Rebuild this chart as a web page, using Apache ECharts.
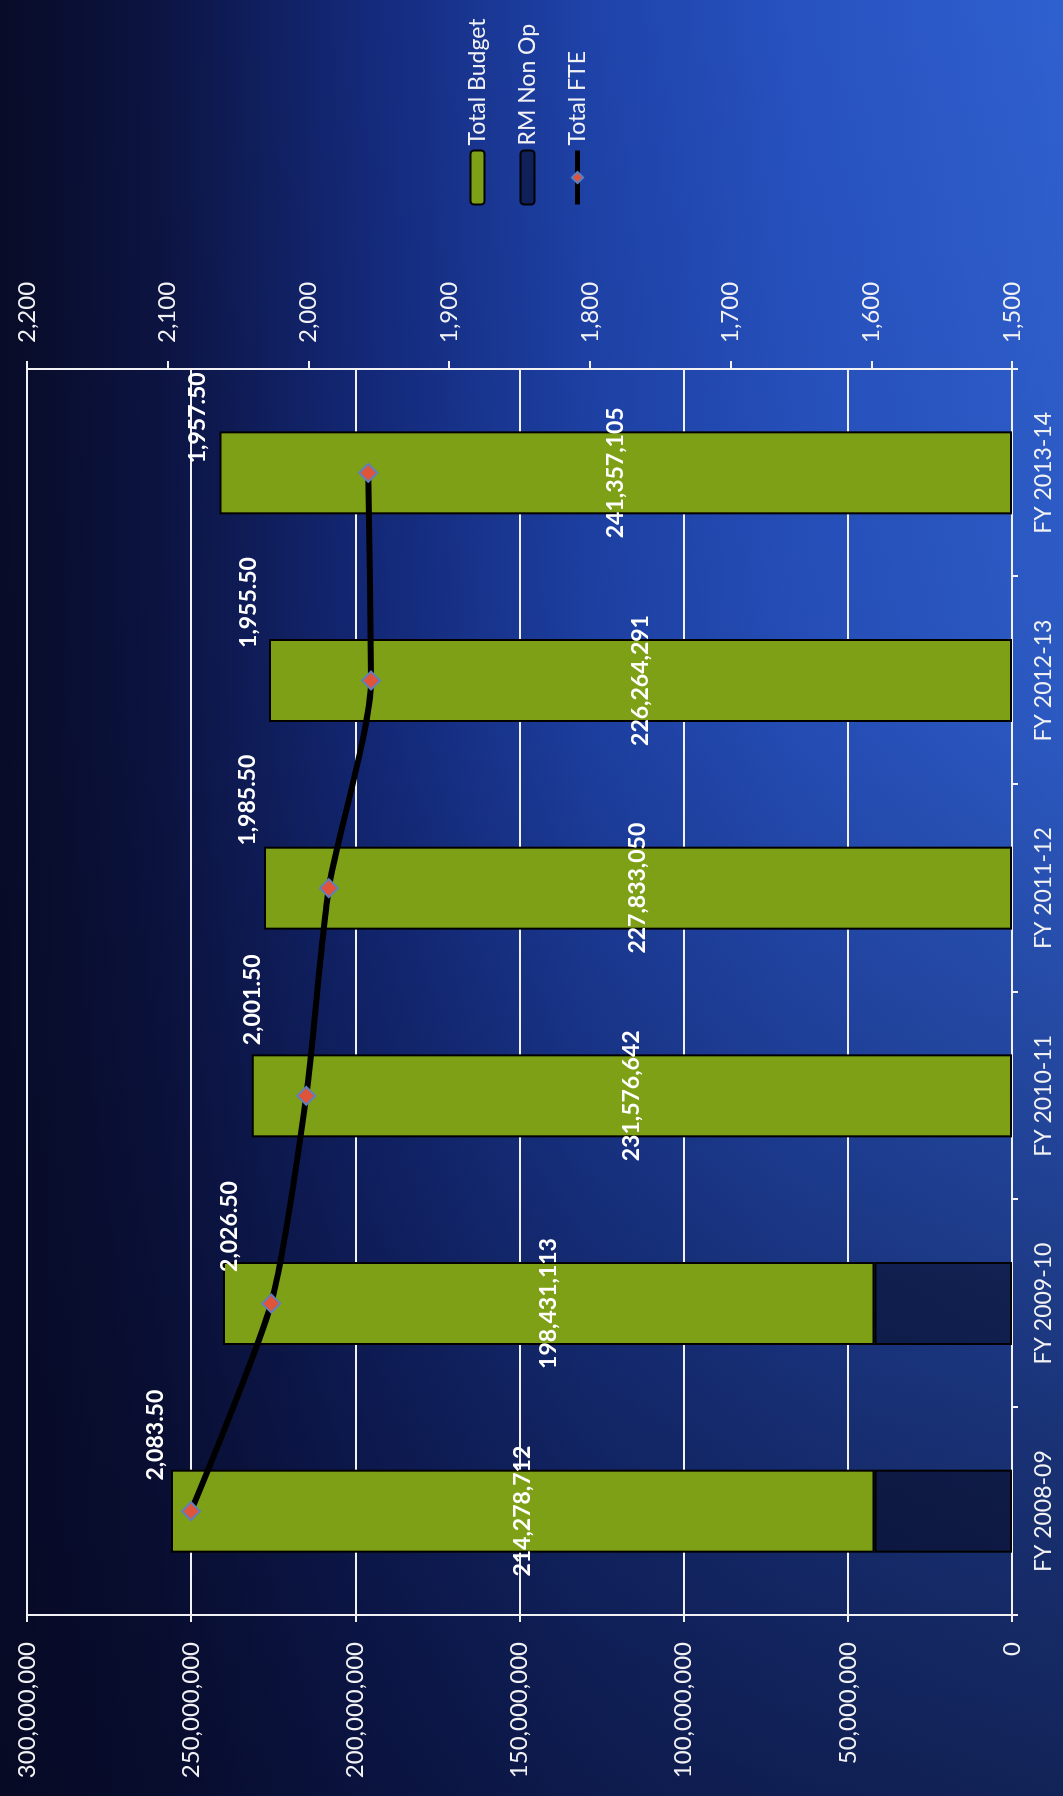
<!DOCTYPE html>
<html>
<head>
<meta charset="utf-8">
<title>Total Budget, RM Non Op and Total FTE</title>
<script src="https://cdn.jsdelivr.net/npm/echarts@6/dist/echarts.min.js"></script>
<style>
  html, body { margin: 0; padding: 0; width: 1063px; height: 1796px; overflow: hidden; }
  body {
    background:
      linear-gradient(to bottom, rgba(6,9,36,0) 0%, rgba(6,9,36,0.08) 40%, rgba(6,9,36,0.28) 60%, rgba(6,9,36,0.52) 80%, rgba(6,9,36,0.7) 100%),
      linear-gradient(to right, #080c28 0%, #0c1442 15%, #142a7c 35%, #1e42a8 55%, #2752c0 75%, #2f60cf 100%);
  }
  /* the chart is laid out as a normal column chart and turned a quarter turn */
  #chart {
    position: absolute; left: 0; top: 0;
    width: 1796px; height: 1063px;
    transform-origin: 0 0;
    transform: translate(0, 1796px) rotate(-90deg);
  }
</style>
</head>
<body>
<div id="chart"></div>
<script>
// Fiscal years
const categories = ['FY 2008-09', 'FY 2009-10', 'FY 2010-11', 'FY 2011-12', 'FY 2012-13', 'FY 2013-14'];
// Total Budget (stacked above RM Non Op)
const totalBudget = [214278712, 198431113, 231576642, 227833050, 226264291, 241357105];
// RM Non Op
const rmNonOp = [41900000, 41900000, 0, 0, 0, 0];
// Total FTE (right axis)
const totalFte = [2083.5, 2026.5, 2001.5, 1985.5, 1955.5, 1957.5];

// where each FTE label sits relative to its marker, in px
const fteLabelShift = [[76, -35], [77, -42], [96, -54], [88, -81], [78, -122], [55, -171]];

const FONT = 'Lato, "Open Sans", sans-serif';
const WHITE = '#f2f2f4';
const fmtInt = v => Number(v).toLocaleString('en-US');
const fmtFte = v => Number(v).toLocaleString('en-US', { minimumFractionDigits: 2, maximumFractionDigits: 2 });

const chart = echarts.init(document.getElementById('chart'), null, { renderer: 'canvas' });

chart.setOption({
  backgroundColor: 'transparent',
  animation: false,
  textStyle: { fontFamily: FONT },
  grid: { left: 181, right: 369, top: 27, bottom: 51, containLabel: false },
  legend: {
    orient: 'vertical',
    left: 1589,
    top: 466,
    padding: 0,
    itemWidth: 54,
    itemHeight: 14,
    itemGap: 27,
    lineStyle: { width: 5 },
    textStyle: { color: WHITE, fontSize: 23, fontFamily: FONT },
    data: ['Total Budget', 'RM Non Op', 'Total FTE']
  },
  xAxis: {
    type: 'category',
    data: categories,
    boundaryGap: true,
    axisLine: { show: true, lineStyle: { color: WHITE, width: 2 } },
    axisTick: { show: true, length: 6, lineStyle: { color: WHITE, width: 2 } },
    axisLabel: { color: WHITE, fontSize: 23, fontFamily: FONT, margin: 20 }
  },
  yAxis: [
    {
      type: 'value',
      position: 'left',
      min: 0,
      max: 300000000,
      interval: 50000000,
      axisLine: { show: true, lineStyle: { color: WHITE, width: 2 } },
      axisTick: { show: true, length: 7, lineStyle: { color: WHITE, width: 2 } },
      splitLine: { show: true, lineStyle: { color: WHITE, width: 2 } },
      axisLabel: { color: WHITE, fontSize: 24, fontFamily: FONT, margin: 27, formatter: fmtInt }
    },
    {
      type: 'value',
      position: 'right',
      min: 1500,
      max: 2200,
      interval: 100,
      axisLine: { show: true, lineStyle: { color: WHITE, width: 2 } },
      axisTick: { show: true, length: 8, lineStyle: { color: WHITE, width: 2 } },
      splitLine: { show: false },
      axisLabel: { color: WHITE, fontSize: 24, fontFamily: FONT, margin: 26, formatter: fmtInt }
    }
  ],
  series: [
    {
      name: 'RM Non Op',
      type: 'bar',
      stack: 'budget',
      barWidth: 83,
      data: rmNonOp.map(v => (v > 0 ? v : '-')),
      itemStyle: { color: 'rgba(4,6,26,0.5)', borderColor: '#000000', borderWidth: 2 }
    },
    {
      name: 'Total Budget',
      type: 'bar',
      stack: 'budget',
      barWidth: 83,
      data: totalBudget,
      itemStyle: { color: '#7ea016', borderColor: '#000000', borderWidth: 2 },
      label: {
        show: true,
        position: 'inside',
        color: '#ffffff',
        fontSize: 23,
        fontWeight: 'bold',
        fontFamily: FONT,
        formatter: p => fmtInt(p.value)
      }
    },
    {
      name: 'Total FTE',
      type: 'line',
      yAxisIndex: 1,
      smooth: 0.22,
      symbol: 'diamond',
      symbolSize: 18,
      z: 5,
      lineStyle: { color: '#000000', width: 6 },
      itemStyle: { color: '#e0553a', borderColor: '#5f7fbf', borderWidth: 2 },
      label: {
        show: true,
        position: 'inside',
        color: '#ffffff',
        fontSize: 23,
        fontWeight: 'bold',
        fontFamily: FONT,
        formatter: p => fmtFte(p.value)
      },
      data: totalFte.map((v, i) => ({ value: v, label: { offset: fteLabelShift[i] } }))
    }
  ]
});
</script>
</body>
</html>
